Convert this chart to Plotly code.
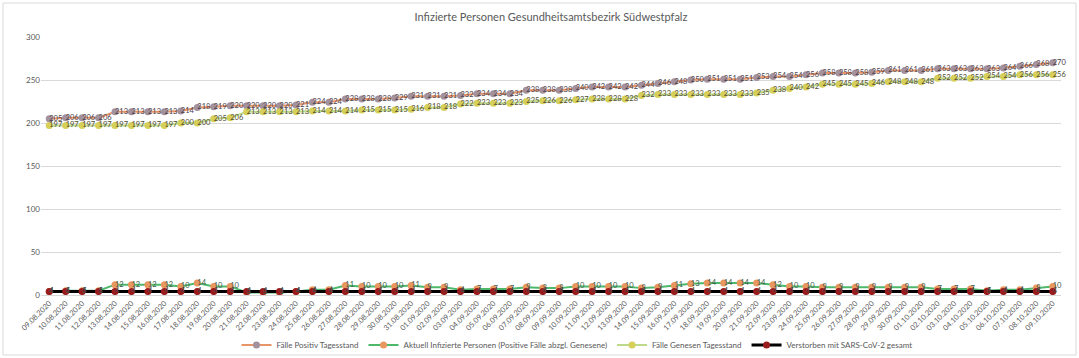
import plotly.graph_objects as go

dates = [
    "09.08.2020", "10.08.2020", "11.08.2020", "12.08.2020", "13.08.2020", "14.08.2020", "15.08.2020",
    "16.08.2020", "17.08.2020", "18.08.2020", "19.08.2020", "20.08.2020", "21.08.2020", "22.08.2020",
    "23.08.2020", "24.08.2020", "25.08.2020", "26.08.2020", "27.08.2020", "28.08.2020", "29.08.2020",
    "30.08.2020", "31.08.2020", "01.09.2020", "02.09.2020", "03.09.2020", "04.09.2020", "05.09.2020",
    "06.09.2020", "07.09.2020", "08.09.2020", "09.09.2020", "10.09.2020", "11.09.2020", "12.09.2020",
    "13.09.2020", "14.09.2020", "15.09.2020", "16.09.2020", "17.09.2020", "18.09.2020", "19.09.2020",
    "20.09.2020", "21.09.2020", "22.09.2020", "23.09.2020", "24.09.2020", "25.09.2020", "26.09.2020",
    "27.09.2020", "28.09.2020", "29.09.2020", "30.09.2020", "01.10.2020", "02.10.2020", "03.10.2020",
    "04.10.2020", "05.10.2020", "06.10.2020", "07.10.2020", "08.10.2020", "09.10.2020",
]

positiv = [205, 206, 206, 206, 213, 213, 213, 213, 214, 218, 219, 220, 220, 220, 220, 221,
           224, 224, 228, 228, 228, 229, 231, 231, 231, 232, 234, 234, 234, 238, 238, 238,
           240, 242, 242, 242, 244, 246, 248, 250, 251, 251, 251, 253, 254, 254, 256, 258,
           258, 258, 259, 261, 261, 261, 263, 263, 263, 263, 264, 266, 268, 270]

aktuell = [4, 5, 5, 5, 12, 12, 12, 12, 10, 14, 10, 10, 3, 3, 3, 4,
           6, 6, 11, 10, 10, 10, 11, 9, 9, 6, 7, 7, 7, 9, 8, 8,
           10, 10, 10, 10, 8, 9, 11, 13, 14, 14, 14, 14, 12, 10, 10, 9,
           9, 9, 9, 9, 9, 9, 7, 7, 7, 5, 6, 6, 8, 10]

genesen = [197, 197, 197, 197, 197, 197, 197, 197, 200, 200, 205, 206, 213, 213, 213, 213,
           214, 214, 214, 215, 215, 215, 216, 218, 218, 222, 223, 223, 223, 225, 226, 226,
           227, 228, 228, 228, 232, 233, 233, 233, 233, 233, 233, 235, 238, 240, 242, 245,
           245, 245, 246, 248, 248, 248, 252, 252, 252, 254, 254, 256, 256, 256]

verstorben = [4] * 62

y_ticks = [0, 50, 100, 150, 200, 250, 300]

series = [
    ("Fälle Positiv Tagesstand", positiv, "#E8956A", "#A3919E", 2, "#4a4048"),
    ("Aktuell Infizierte Personen (Positive Fälle abzgl. Genesene)", aktuell, "#4DB86A", "#E8975E", 2, "#3b5a4c"),
    ("Fälle Genesen Tagesstand", genesen, "#BCD98C", "#D6CF5A", 2, "#4f4c2e"),
    ("Verstorben mit SARS-CoV-2 gesamt", verstorben, "#000000", "#9A1B1B", 3, "#404040"),
]

FONT = "Lato"
fig = go.Figure()
for name, vals, lc, mc, lw, tc in series:
    fig.add_trace(go.Scatter(
        x=dates, y=vals, name=name, mode="lines+markers",
        line=dict(color=lc, width=lw),
        marker=dict(color=mc, size=7, line=dict(width=0)),
    ))
for name, vals, lc, mc, lw, tc in series:
    fig.add_trace(go.Scatter(
        x=dates, y=vals, mode="text", showlegend=False, hoverinfo="skip",
        text=[str(v) for v in vals], textposition="middle right",
        textfont=dict(family=FONT, size=7.5, color=tc), cliponaxis=False,
    ))

W, H = 1079, 358
L, R, T, B = 41, 18, 37, 63
pw, ph = W - L - R, H - T - B

def px(x):
    return (x - L) / pw

def py(y):
    return (H - B - y) / ph

fig.add_shape(type="rect", xref="paper", yref="paper",
              x0=px(3), x1=px(1076), y0=py(355), y1=py(3),
              line=dict(color="#D9D9D9", width=1), fillcolor="rgba(0,0,0,0)", layer="below")

fig.update_layout(
    width=W, height=H,
    margin=dict(l=L, r=R, t=T, b=B, autoexpand=False),
    paper_bgcolor="white", plot_bgcolor="white",
    font=dict(family=FONT, color="#595959", size=8),
    title=dict(text="Infizierte Personen Gesundheitsamtsbezirk Südwestpfalz",
               x=0.5, xanchor="center", xref="paper", y=1 - 17 / H, yref="container", yanchor="middle",
               font=dict(family=FONT, size=11, color="#595959")),
    xaxis=dict(type="category", range=[-0.5, 61.5], tickangle=-45, showgrid=False, automargin=False,
               showline=True, linecolor="#D9D9D9", ticks="", tickfont=dict(size=7.5, color="#595959")),
    yaxis=dict(range=[0, 300], tickvals=y_ticks, showgrid=True, gridcolor="#D9D9D9", gridwidth=1,
               automargin=False, zeroline=False, showline=False, ticks="",
               tickfont=dict(size=8, color="#595959")),
    legend=dict(orientation="h", x=px(577), xanchor="center", y=py(345), yanchor="middle",
                font=dict(family=FONT, size=8, color="#595959"), bgcolor="rgba(0,0,0,0)"),
    showlegend=True,
)

fig.write_html("out.html", config={"displayModeBar": False},
               post_script="document.body.style.margin='0';document.body.style.overflow='hidden';")
